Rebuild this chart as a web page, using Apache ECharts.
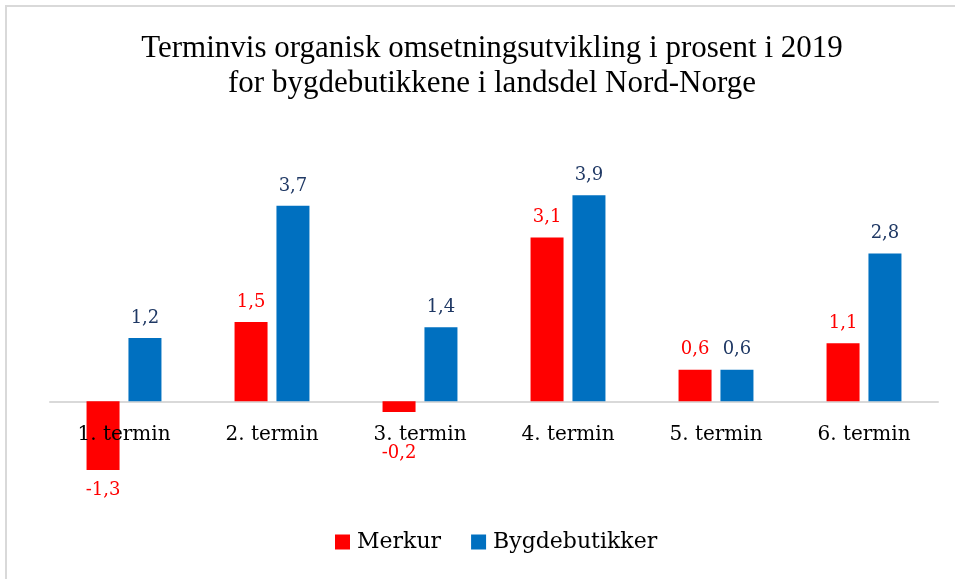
<!DOCTYPE html>
<html><head><meta charset="utf-8">
<script src="https://cdn.jsdelivr.net/npm/echarts@6/dist/echarts.min.js"></script>
<style>html,body{margin:0;padding:0;background:#fff}#c{width:955px;height:579px}</style>
</head><body><div id="c"></div>
<script>
var categories = ['1. termin','2. termin','3. termin','4. termin','5. termin','6. termin'];
var merkur = [-1.3, 1.5, -0.2, 3.1, 0.6, 1.1];
var bygde = [1.2, 3.7, 1.4, 3.9, 0.6, 2.8];
var seriesNames = ['Merkur','Bygdebutikker'];
var titleLines = ['Terminvis organisk omsetningsutvikling i prosent i 2019','for bygdebutikkene i landsdel Nord-Norge'];

var titleFont = 'Liberation Serif';
var serif = 'DejaVu Serif';
function fmt(v){ return String(v).replace('.', ','); }
function mk(arr){
  return arr.map(function(v){
    // small negative bars: label pushed below the category labels (as the reference does)
    var lab = {position: v < 0 ? 'bottom' : 'top'};
    if (v < 0 && v > -0.5) lab.distance = 32;
    return {value: v, label: lab};
  });
}
var chart = echarts.init(document.getElementById('c'), null, {renderer:'canvas'});
chart.setOption({
  animation: false,
  backgroundColor: '#fff',
  graphic: [{type:'rect', shape:{x:6, y:6, width:960, height:590}, style:{fill:'none', stroke:'#d9d9d9', lineWidth:2}, silent:true}],
  title: {
    text: titleLines.join('\n'),
    left: 487, top: 26, textAlign: 'center',
    textStyle: {fontFamily: titleFont, fontSize: 31, fontWeight: 'normal', color: '#000', lineHeight: 35}
  },
  legend: {
    data: seriesNames, bottom: 21, left: 330, itemWidth: 15, itemHeight: 15, itemGap: 30,
    icon: 'rect',
    textStyle: {fontFamily: serif, fontSize: 22, color: '#000', padding: [0, 0, 0, 2]}
  },
  grid: {left: 50, right: 17, top: 190, bottom: 72, containLabel: false},
  xAxis: [{
    type: 'category', data: categories,
    axisLine: {lineStyle: {color: '#d9d9d9', width: 2}},
    axisTick: {show: false},
    axisLabel: {show: false}
  }, {
    type: 'category', data: categories, position: 'bottom', offset: -92, z: 10,
    axisLine: {show: false, onZero: false},
    axisTick: {show: false},
    axisLabel: {fontFamily: serif, fontSize: 20, color: '#000', margin: 10, interval: 0}
  }],
  yAxis: {type: 'value', min: -2, max: 4, show: false, splitLine: {show: false}},
  series: [
    {name: seriesNames[0], type: 'bar', data: mk(merkur), barWidth: 33, barGap: '27%',
     itemStyle: {color: '#ff0000'},
     label: {show: true, distance: 11, color: '#ff0000', fontFamily: serif, fontSize: 18, formatter: function(p){return fmt(p.value);}}},
    {name: seriesNames[1], type: 'bar', data: mk(bygde), barWidth: 33,
     itemStyle: {color: '#0070c0'},
     label: {show: true, distance: 11, color: '#1f3864', fontFamily: serif, fontSize: 18, formatter: function(p){return fmt(p.value);}}}
  ]
});
</script></body></html>
